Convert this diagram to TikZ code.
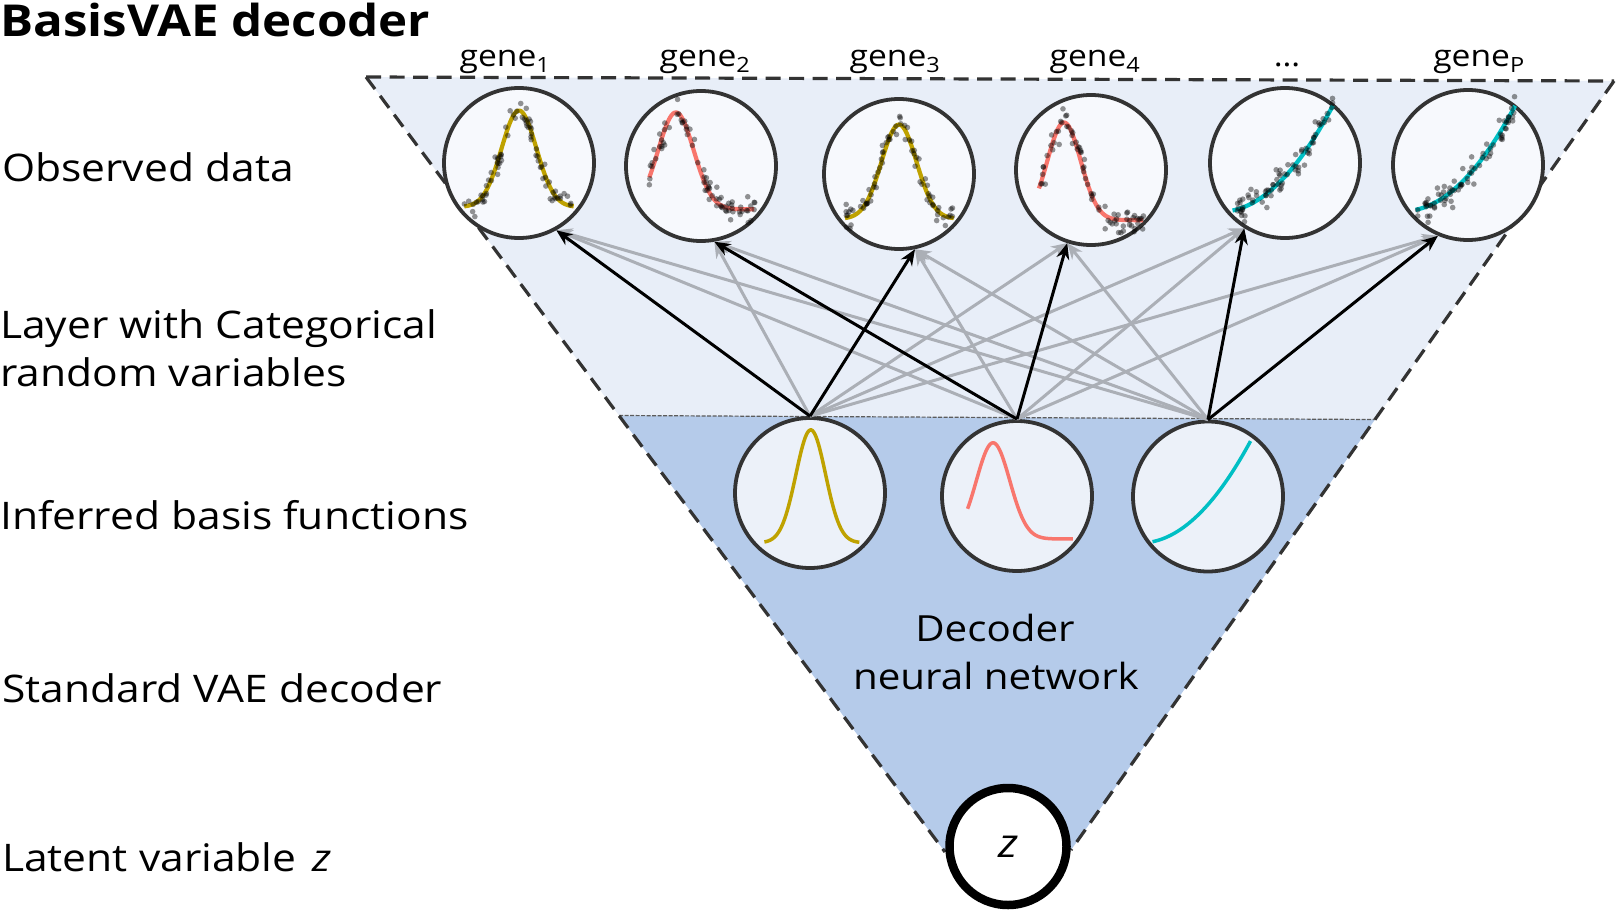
\documentclass[tikz,border=0pt]{standalone}
\usepackage{fontspec}
\setmainfont{Open Sans}[FakeStretch=1.12]
\usetikzlibrary{arrows.meta}
\definecolor{cdark}{HTML}{333333}
\definecolor{upfill}{HTML}{E8EEF8}
\definecolor{lowfill}{HTML}{B5CBEA}
\definecolor{obsfill}{HTML}{F7F9FD}
\definecolor{basfill}{HTML}{ECF1F9}
\definecolor{cyel}{HTML}{BFA200}
\definecolor{cred}{HTML}{F8766D}
\definecolor{ccyan}{HTML}{00BFC4}
\definecolor{cgray}{HTML}{ABAFB6}
\newcommand\gscatter[7]{%
  \foreach \i in {1,...,#7}{%
    \pgfmathsetmacro\px{#1+(#2-#1)*rnd}%
    \pgfmathsetmacro\py{gss(\px,#3,#4,#5,#6)+0.085*(rand+rand+rand)}%
    \fill[dotmark] (\px,\py) circle[radius=2.8pt];
  }}
\newcommand\cscatter[5]{% x0 x1 b h n
  \foreach \i in {1,...,#5}{%
    \pgfmathsetmacro\pt{rnd}%
    \pgfmathsetmacro\px{#1+(#2-#1)*\pt}%
    \pgfmathsetmacro\py{cub(\pt,#3,#4)+0.085*(rand+rand+rand)}%
    \fill[dotmark] (\px,\py) circle[radius=2.8pt];
  }}
\begin{document}
\begin{tikzpicture}[x=1pt,y=-1pt,
  declare function={gss(\gx,\gm,\gs,\gb,\gh)=\gb-\gh*exp(-((\gx-\gm)*(\gx-\gm))/(2*\gs*\gs));
                    cub(\gt,\gb,\gh)=\gb-\gh*(0.2*\gt+0.8*\gt*\gt);},
  outline/.style={draw=cdark,line width=3.2pt,dash pattern=on 15pt off 8.5pt},
  divider/.style={draw=cdark!80,line width=1.2pt,dash pattern=on 4pt off 1.5pt},
  obs/.style={circle,draw=cdark,line width=3.8pt,fill=obsfill,minimum size=150pt,inner sep=0pt},
  basis/.style={circle,draw=cdark,line width=3.8pt,fill=basfill,minimum size=150pt,inner sep=0pt},
  crv/.style={line width=3.5pt},
  ocrv/.style={line width=4.2pt},
  dotmark/.style={fill=black,opacity=0.42},
  garrow/.style={draw=cgray,line width=3pt,-{Stealth[length=16pt,width=13pt]}},
  barrow/.style={draw=black,line width=3pt,-{Stealth[length=16pt,width=13pt]}},
  lab/.style={anchor=base west,inner sep=0pt,font=\fontsize{38}{46}\selectfont},
  glab/.style={anchor=base,inner sep=0pt,font=\fontsize{30}{36}\selectfont},
  ]
\useasboundingbox (0,0) rectangle (1617,910);
\pgfmathsetseed{11}
% frame coordinates
\coordinate (TL) at (366,77);
\coordinate (TR) at (1614,81);
\coordinate (DL) at (619,415.5);
\coordinate (DR) at (1375,419.5);
\coordinate (ZL) at (945,852);
\coordinate (ZR) at (1071,850);
\fill[upfill] (TL) -- (TR) -- (DR) -- (DL) -- cycle;
\fill[lowfill] (DL) -- (DR) -- (ZR) -- (ZL) -- cycle;
\draw[divider] (DL) -- (DR);
\draw[outline] (TL) -- (TR);
\draw[outline] (TL) -- (ZL);
\draw[outline] (TR) -- (ZR);

% texts
\node[anchor=base west,inner sep=0pt,font=\fontsize{44}{50}\selectfont\bfseries] (title) at (0,36) {BasisVAE decoder};
\node[lab] (lobs) at (2,181) {Observed data};
\node[lab] (llay) at (0,338) {Layer with Categorical};
\node[lab] (llay2) at (0,386) {random variables};
\node[lab] (linf) at (0,529) {Inferred basis functions};
\node[lab] (lstd) at (2,702) {Standard VAE decoder};
\node[lab] (llat) at (2,871) {Latent variable\hspace{0.12em} \textit{z}};
\node[lab,anchor=base,font=\fontsize{36}{44}\selectfont] (dec1) at (995,641) {Decoder};
\node[lab,anchor=base,font=\fontsize{36}{44}\selectfont] (dec2) at (996,689) {neural network};

\node[glab] (t1) at (505,66) {gene\textsubscript{1}};
\node[glab] (t2) at (705,66) {gene\textsubscript{2}};
\node[glab] (t3) at (895,66) {gene\textsubscript{3}};
\node[glab] (t4) at (1095,66) {gene\textsubscript{4}};
\node[glab] (t5) at (1287,66) {…};
\node[glab] (t6) at (1479,66) {gene\textsubscript{P}};

% observed circles
\node[obs] (g1) at (519,163) {};
\node[obs] (g2) at (701,166) {};
\node[obs] (g3) at (899,174) {};
\node[obs] (g4) at (1091,170) {};
\node[obs] (g5) at (1285,163) {};
\node[obs] (g6) at (1468,165) {};

% basis circles
\node[basis] (b1) at (810,493) {};
\node[basis] (b2) at (1017,496) {};
\node[basis] (b3) at (1208,496.5) {};

% z
\node[circle,draw=black,line width=8.5pt,fill=white,minimum size=117pt,inner sep=0pt,font=\fontsize{40}{48}\selectfont] (z) at (1008,846.5) {\textit{z}};

% curves in basis circles
\begin{scope}[shift={(b1.center)},x=76pt,y=-76pt]
  \draw[crv,cyel] plot[domain=-0.6:0.65,samples=80,smooth] (\x,{gss(\x,0.01,0.195,0.655,1.485)});
\end{scope}
\begin{scope}[shift={(b2.center)},x=76pt,y=-76pt]
  \draw[crv,cred] plot[domain=-0.65:0.735,samples=80,smooth] (\x,{gss(\x,-0.315,0.22,0.565,1.265)});
\end{scope}
\begin{scope}[shift={(b3.center)},x=76pt,y=-76pt]
  \draw[crv,ccyan] plot[domain=0:1,samples=50,smooth] ({-0.73+1.29*\x},{cub(\x,0.595,1.325)});
\end{scope}

% curves + data in observed circles
\begin{scope}[shift={(g1.center)},x=76pt,y=-76pt]
  \draw[ocrv,cyel] plot[domain=-0.72:0.72,samples=80,smooth] (\x,{gss(\x,0,0.23,0.58,1.27)});
  \gscatter{-0.72}{0.72}{0}{0.23}{0.58}{1.27}{75}
\end{scope}
\begin{scope}[shift={(g2.center)},x=76pt,y=-76pt]
  \draw[ocrv,cred] plot[domain=-0.68:0.70,samples=80,smooth] (\x,{gss(\x,-0.33,0.235,0.57,1.275)});
  \gscatter{-0.68}{0.72}{-0.33}{0.235}{0.57}{1.275}{75}
\end{scope}
\begin{scope}[shift={(g3.center)},x=76pt,y=-76pt]
  \draw[ocrv,cyel] plot[domain=-0.71:0.72,samples=80,smooth] (\x,{gss(\x,0,0.23,0.59,1.24)});
  \gscatter{-0.71}{0.72}{0}{0.23}{0.59}{1.24}{75}
\end{scope}
\begin{scope}[shift={(g4.center)},x=76pt,y=-76pt]
  \draw[ocrv,cred] plot[domain=-0.685:0.685,samples=80,smooth] (\x,{gss(\x,-0.355,0.22,0.66,1.285)});
  \gscatter{-0.685}{0.70}{-0.355}{0.22}{0.66}{1.285}{75}
\end{scope}
\begin{scope}[shift={(g5.center)},x=76pt,y=-76pt]
  \draw[ocrv,ccyan] plot[domain=0:1,samples=50,smooth] ({-0.69+1.32*\x},{cub(\x,0.625,1.38)});
  \cscatter{-0.69}{0.63}{0.625}{1.38}{75}
\end{scope}
\begin{scope}[shift={(g6.center)},x=76pt,y=-76pt]
  \draw[ocrv,ccyan] plot[domain=0:1,samples=50,smooth] ({-0.69+1.31*\x},{cub(\x,0.59,1.37)});
  \cscatter{-0.69}{0.62}{0.59}{1.37}{75}
\end{scope}

% gray arrows
\draw[garrow] (b1.north) -- (g2.-80);
\draw[garrow] (b1.north) -- (g4.-108);
\draw[garrow] (b1.north) -- (g5.-122);
\draw[garrow] (b1.north) -- (g6.-113);
\draw[garrow] (b2.north) -- (g1.-61);
\draw[garrow] (b2.north) -- (g3.-78);
\draw[garrow] (b2.north) -- (g5.-122);
\draw[garrow] (b2.north) -- (g6.-113);
\draw[garrow] (b3.north) -- (g1.-61);
\draw[garrow] (b3.north) -- (g2.-80);
\draw[garrow] (b3.north) -- (g3.-78);
\draw[garrow] (b3.north) -- (g4.-108);
% black arrows
\draw[barrow] (b1.north) -- (g1.-61);
\draw[barrow] (b1.north) -- (g3.-78);
\draw[barrow] (b2.north) -- (g2.-80);
\draw[barrow] (b2.north) -- (g4.-108);
\draw[barrow] (b3.north) -- (g5.-122);
\draw[barrow] (b3.north) -- (g6.-113);
\end{tikzpicture}
\end{document}
